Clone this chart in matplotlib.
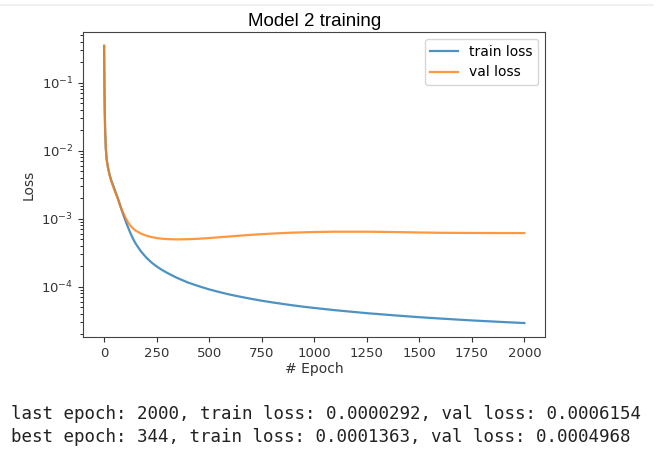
import matplotlib
matplotlib.use('Agg')
import matplotlib.pyplot as plt
from matplotlib.lines import Line2D

# values
epochs = [0, 1, 2, 3, 5, 8, 12, 18, 25, 35, 50, 65, 80, 90, 100, 110, 125, 140,
          150, 175, 200, 225, 250, 275, 300, 344, 400, 450, 500, 550, 600, 650,
          700, 750, 800, 850, 900, 950, 1000, 1100, 1250, 1400, 1500, 1600,
          1750, 1900, 2000]
train_loss = [0.35, 0.15, 0.07, 0.04, 0.02, 0.011, 0.0076, 0.0058, 0.0046, 0.0036,
              0.0027, 0.00202, 0.00145, 0.00118, 0.00097, 0.000803, 0.000617,
              0.000492, 0.000432, 0.000332, 0.00027, 0.000228, 0.000199,
              0.000177, 0.00016, 0.0001363, 0.000115, 0.000102, 0.0000913,
              0.0000832, 0.0000764, 0.000071, 0.0000663, 0.0000622, 0.0000588,
              0.0000558, 0.0000531, 0.0000507, 0.0000487, 0.0000451, 0.0000408,
              0.0000375, 0.0000356, 0.000034, 0.0000319, 0.0000302, 0.0000292]
val_loss = [0.35, 0.15, 0.07, 0.04, 0.02, 0.0112, 0.0076, 0.0057, 0.0045, 0.0035,
            0.0026, 0.00198, 0.00146, 0.00124, 0.00106, 0.00093, 0.00079, 0.00071,
            0.00067, 0.000605, 0.000565, 0.000538, 0.00052, 0.000509, 0.000502,
            0.0004968, 0.0005, 0.000508, 0.00052, 0.000535, 0.00055, 0.000565,
            0.00058, 0.000593, 0.000605, 0.000616, 0.000625, 0.000632, 0.000638,
            0.000645, 0.000645, 0.000636, 0.000628, 0.000622, 0.000618,
            0.000616, 0.0006154]
summary_lines = [
    "last epoch: 2000, train loss: 0.0000292, val loss: 0.0006154",
    "best epoch: 344, train loss: 0.0001363, val loss: 0.0004968",
]

fig = plt.figure(figsize=(6.7, 4.51), dpi=100)
ax = fig.add_axes([0.124, 0.253, 0.690, 0.676])

ax.plot(epochs, train_loss, color='#1f77b4', linewidth=1.6, alpha=0.8, label='train loss')
ax.plot(epochs, val_loss, color='#ff7f0e', linewidth=1.6, alpha=0.8, label='val loss')
ax.set_yscale('log')
ax.set_xticks([0, 250, 500, 750, 1000, 1250, 1500, 1750, 2000])
ax.tick_params(labelsize=9.5, colors='#333333')
ax.set_xlabel('# Epoch', fontsize=10, color='#333333', labelpad=2)
ax.set_ylabel('Loss', fontsize=10, color='#333333')
for s in ax.spines.values():
    s.set_color('#444444')
ax.legend(loc='upper right', fontsize=10)
ax.set_title('Model 2 training', fontsize=13.5, family='Liberation Sans', pad=4)

# thin divider at the top of the notebook cell
fig.add_artist(Line2D([0, 0.975], [0.99, 0.99], transform=fig.transFigure,
                      color='#eeeeee', linewidth=1.2))

for i, line in enumerate(summary_lines):
    fig.text(0.017, 0.083 - i * 0.053, line, family='DejaVu Sans Mono',
             fontsize=12.65, color='#222222', va='center')

plt.savefig('out.png', dpi=100)
